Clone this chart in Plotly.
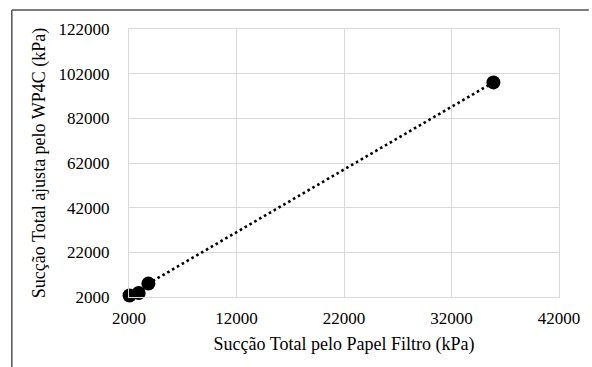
import plotly.graph_objects as go

# Data
papel_filtro = [2050, 2900, 3800, 35900]      # Sucção Total pelo Papel Filtro (kPa)
wp4c = [2700, 3800, 8000, 98100]              # Sucção Total ajusta pelo WP4C (kPa)

x_ticks = [2000, 12000, 22000, 32000, 42000]
y_ticks = [2000, 22000, 42000, 62000, 82000, 102000, 122000]

font_family = "Liberation Serif"
tick_font = dict(family=font_family, size=17, color="black")
title_font = dict(family=font_family, size=18, color="black")

fig = go.Figure()
fig.add_trace(go.Scatter(
    x=papel_filtro, y=wp4c, mode="lines+markers",
    line=dict(color="black", width=2.6, dash="2.6px,3px"),
    marker=dict(color="black", size=14),
    cliponaxis=False,
    showlegend=False, hoverinfo="x+y",
))

fig.update_layout(
    width=592, height=367, autosize=False,
    margin=dict(l=129, r=30, t=29, b=70),
    paper_bgcolor="white", plot_bgcolor="white",
    font=dict(family=font_family, size=17, color="black"),
    xaxis=dict(
        range=[2000, 42000], tickvals=x_ticks, ticktext=[str(v) for v in x_ticks],
        showgrid=True, gridcolor="#d9d9d9", gridwidth=1,
        zeroline=False, showline=True, linecolor="#d9d9d9", mirror=True,
        ticks="", tickfont=tick_font, ticklabelstandoff=6,
        title=dict(text="Sucção Total pelo Papel Filtro (kPa)", font=title_font, standoff=9),
    ),
    yaxis=dict(
        range=[2000, 122000], tickvals=y_ticks, ticktext=[str(v) for v in y_ticks],
        showgrid=True, gridcolor="#d9d9d9", gridwidth=1,
        zeroline=False, showline=True, linecolor="#d9d9d9", mirror=True,
        ticks="", tickfont=tick_font, ticklabelstandoff=15,
        title=dict(text="Sucção Total ajusta pelo WP4C (kPa)", font=title_font, standoff=8),
    ),
    shapes=[
        dict(type="line", xref="paper", yref="paper",
             x0=(11 - 129) / 433, x1=(592 - 129) / 433,
             y0=(297 - 10) / 268, y1=(297 - 10) / 268,
             line=dict(color="#505050", width=1.5)),
        dict(type="line", xref="paper", yref="paper",
             x0=(11 - 129) / 433, x1=(11 - 129) / 433,
             y0=(297 - 10) / 268, y1=(297 - 370) / 268,
             line=dict(color="#505050", width=1.5)),
    ],
)

fig.write_html("out.html")
